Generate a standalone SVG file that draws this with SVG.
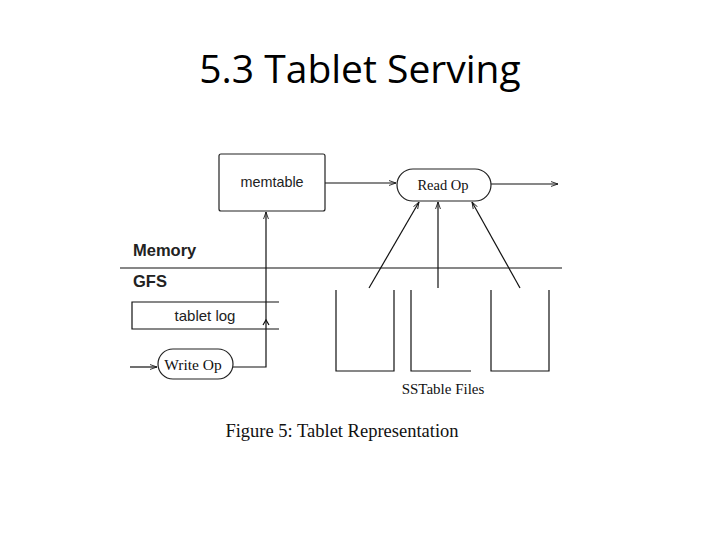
<svg xmlns="http://www.w3.org/2000/svg" width="720" height="540" viewBox="0 0 720 540">
<style>
.ln{fill:none;stroke:#111;stroke-width:1.2}
.box{fill:#fff;stroke:#222;stroke-width:1.2}
.sans{font-family:"Liberation Sans",Arial,sans-serif;fill:#222}
.serif{font-family:"Liberation Serif","Times New Roman",serif;fill:#111}
</style>
<defs>
<marker id="ah" viewBox="0 0 10 10" refX="10" refY="5" markerWidth="7" markerHeight="7" markerUnits="userSpaceOnUse" orient="auto">
<path d="M0,1.5 L10,5 L0,8.5" fill="none" stroke="#111" stroke-width="1.2"/>
</marker>
</defs>
<rect width="720" height="540" fill="#fff"/>
<text x="360" y="83" text-anchor="middle" font-family="Open Sans,Liberation Sans,sans-serif" font-size="39" fill="#000">5.3 Tablet Serving</text>

<g id="connectors">
<line class="ln" x1="120" y1="268" x2="562" y2="268"/>
<line class="ln" x1="325" y1="183" x2="396" y2="183" marker-end="url(#ah)"/>
<line class="ln" x1="491" y1="184" x2="558" y2="184" marker-end="url(#ah)"/>
<line class="ln" x1="130" y1="367" x2="157" y2="367" marker-end="url(#ah)"/>
<polyline class="ln" points="233,367 266,367 266,212" marker-end="url(#ah)"/>
<path class="ln" d="M263,325 L266,320 L269,325" stroke-width="0.8"/>
<line class="ln" x1="369" y1="288" x2="419" y2="202" marker-end="url(#ah)"/>
<line class="ln" x1="438" y1="288" x2="438" y2="202" marker-end="url(#ah)"/>
<line class="ln" x1="520" y1="288" x2="472" y2="202" marker-end="url(#ah)"/>
</g>

<g id="memtable">
<rect class="box" x="219" y="154" width="106" height="57" rx="2"/>
<text class="sans" x="272" y="187" text-anchor="middle" font-size="14.4">memtable</text>
</g>

<g id="read-op">
<rect class="box" x="397" y="169" width="94" height="32" rx="16"/>
<text class="serif" x="443" y="190" text-anchor="middle" font-size="14.5">Read Op</text>
</g>

<g id="labels">
<text class="sans" x="133" y="256" font-size="16.5" font-weight="bold" fill="#111">Memory</text>
<text class="sans" x="133" y="287" font-size="16.5" font-weight="bold" fill="#111">GFS</text>
</g>

<g id="tablet-log">
<path class="ln" d="M279,302 H132 V329 H279"/>
<text class="sans" x="205" y="321" text-anchor="middle" font-size="15">tablet log</text>
</g>

<g id="write-op">
<rect class="box" x="158" y="349" width="75" height="30" rx="15"/>
<text class="serif" x="193" y="370" text-anchor="middle" font-size="15.5">Write Op</text>
</g>

<g id="sstables">
<path class="ln" d="M336,290 V371 H394 V290"/>
<path class="ln" d="M411,290 V371 H471"/>
<path class="ln" d="M491,290 V371 H549 V290"/>
<text class="serif" x="443" y="394" text-anchor="middle" font-size="15">SSTable Files</text>
</g>

<text class="serif" x="342" y="437" text-anchor="middle" font-size="18.5">Figure 5: Tablet Representation</text>
</svg>
